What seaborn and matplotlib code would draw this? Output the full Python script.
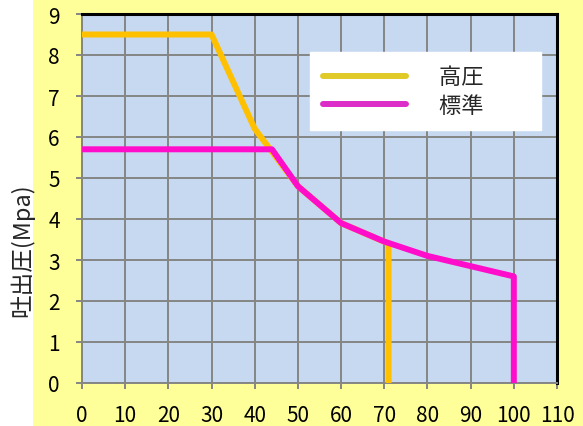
import seaborn as sns
import matplotlib.pyplot as plt
import pandas as pd
from matplotlib.lines import Line2D
from matplotlib.patches import Rectangle

# data
high_x = [0, 30, 40, 50, 60, 71, 71]
high_y = [8.5, 8.5, 6.2, 4.8, 3.9, 3.4, 0]
std_x = [0, 44, 50, 60, 70, 80, 100, 100]
std_y = [5.7, 5.7, 4.8, 3.9, 3.45, 3.1, 2.6, 0]
series_names = ["高圧", "標準"]
x_ticks = list(range(0, 111, 10))
y_ticks = list(range(0, 10))

sns.set_theme(style="white")
plt.rcParams['font.family'] = ['Noto Sans CJK JP', 'DejaVu Sans']

fig = plt.figure(figsize=(5.83, 4.27), dpi=100)
fig.patch.set_facecolor("#FFFF99")
# white strip on the far left
fig.add_artist(Rectangle((0, 0), 33 / 583, 1, transform=fig.transFigure,
                         facecolor="white", edgecolor="none", zorder=-1))
ax = fig.add_axes([82 / 583, 1 - 384 / 427, 475 / 583, 369 / 427])
ax.set_facecolor("#C6D9F0")

df_high = pd.DataFrame({"x": high_x, "y": high_y})
df_std = pd.DataFrame({"x": std_x, "y": std_y})
sns.lineplot(data=df_high, x="x", y="y", sort=False, estimator=None,
             color="#FFC000", lw=4.3, ax=ax, zorder=3)
sns.lineplot(data=df_std, x="x", y="y", sort=False, estimator=None,
             color="#FF0DCB", lw=4.3, ax=ax, zorder=4)

ax.set_xlim(0, 110)
ax.set_ylim(0, 9)
ax.set_xticks(x_ticks)
ax.set_yticks(y_ticks)
ax.grid(True, color="#858585", lw=1.4)
ax.set_axisbelow(True)
ax.tick_params(axis="both", which="both", direction="out", length=4,
               width=1.4, color="#858585", labelsize=15, labelcolor="black",
               bottom=True, left=True)
ax.tick_params(axis="x", pad=11)
ax.tick_params(axis="y", pad=12)

for side in ["left", "bottom"]:
    ax.spines[side].set_color("#858585")
    ax.spines[side].set_linewidth(1.4)
for side in ["top", "right"]:
    ax.spines[side].set_color("black")
    ax.spines[side].set_linewidth(2.2)

ax.set_xlabel("")
ax.set_ylabel("吐出圧(Mpa)", fontsize=17)
ax.yaxis.set_label_coords(-0.10, 0.363)

handles = [Line2D([], [], color="#E0CA28", lw=4.3),
           Line2D([], [], color="#DD2DC8", lw=4.3)]
labels = [n + "\u3000\u3000" for n in series_names]
leg = ax.legend(handles, labels, loc="upper left", bbox_to_anchor=(0.48, 0.897),
                borderaxespad=0, fontsize=16, handlelength=3.7,
                handletextpad=1.5, labelspacing=0.25, borderpad=0.6,
                frameon=True, fancybox=False, framealpha=1)
leg.get_frame().set_facecolor("white")
leg.get_frame().set_edgecolor("white")
leg.set_zorder(5)

fig.savefig("out.png", dpi=100, facecolor=fig.get_facecolor())
